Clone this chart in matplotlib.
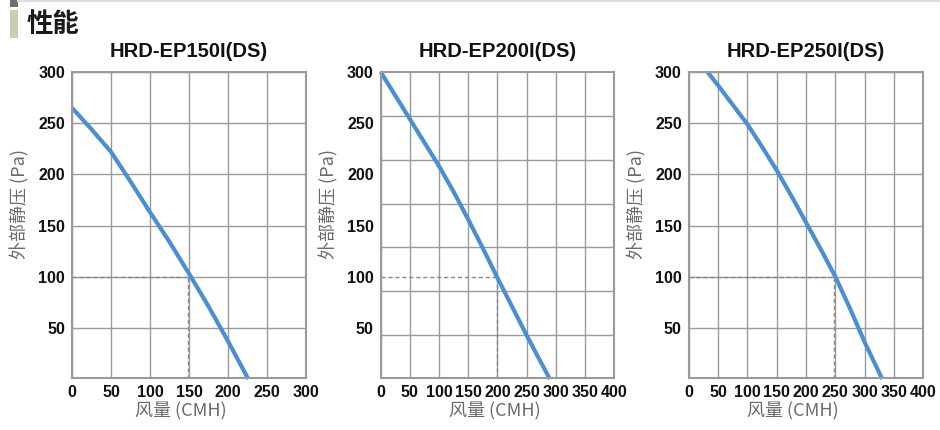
from matplotlib import pyplot as plt
from matplotlib.patches import Rectangle
from matplotlib.lines import Line2D
import numpy as np

# ----------------------------------------
# Data
# ----------------------------------------
titles = ["HRD-EP150I(DS)", "HRD-EP200I(DS)", "HRD-EP250I(DS)"]

flow_150 = [0, 25, 50, 75, 100, 125, 150, 175, 200, 226]
press_150 = [265, 244, 222, 193, 163, 134, 103, 71, 37, 0]

flow_200 = [0, 25, 50, 75, 100, 125, 150, 175, 200, 225, 250, 275, 290]
press_200 = [300, 277, 254, 231, 208, 183, 156, 128, 99, 71, 43, 16, 0]

flow_250 = [32, 50, 75, 100, 125, 150, 175, 200, 225, 250, 275, 300, 330]
press_250 = [300, 287, 268, 249, 227, 204, 179, 153, 127, 100, 69, 36, 0]

rated_flow = [149, 199, 247]
rated_press = [100, 100, 100]

x_max = [300, 400, 400]
y_ticks = [50, 100, 150, 200, 250, 300]

curves = [(flow_150, press_150), (flow_200, press_200), (flow_250, press_250)]

# ----------------------------------------
# Styles
# ----------------------------------------
blue = "#4a8fd2"
grid_col = "#9a9a9a"
label_col = "#6a6a6a"
tick_font = ["Liberation Sans", "DejaVu Sans"]
cjk_font = ["Noto Sans CJK SC", "DejaVu Sans"]

plt.rcParams['font.family'] = cjk_font

fig = plt.figure(figsize=(9.4, 4.3), dpi=100)

lefts = [72 / 940, 380.7 / 940, 688.7 / 940]
widths = [234 / 940, 233.3 / 940, 234.6 / 940]
bottom = 1 - 378 / 430
height = (378 - 72) / 430
xlabel_x = [0.466, 0.49, 0.445]

for i in range(3):
    ax = fig.add_axes([lefts[i], bottom, widths[i], height])
    xs, ys = curves[i]

    ax.set_xlim(0, x_max[i])
    ax.set_ylim(1, 300)

    # grid lines
    ax.set_xticks(np.arange(0, x_max[i] + 1, 50))
    ax.set_yticks(y_ticks)
    if i == 1:
        # the middle chart's horizontal grid uses 7 equal steps
        ax.set_yticks([300 * k / 7 for k in range(1, 7)], minor=True)
        ax.grid(True, which="minor", axis="y", color=grid_col, lw=1.0)
        ax.grid(False, which="major", axis="y")
        ax.tick_params(axis="y", which="minor", length=0)
    else:
        ax.grid(True, which="major", axis="y", color=grid_col, lw=1.0)
    ax.grid(True, which="major", axis="x", color=grid_col, lw=1.0)
    ax.set_axisbelow(True)

    for s in ax.spines.values():
        s.set_color(grid_col)
        s.set_linewidth(1.5)

    ax.tick_params(axis="both", which="major", length=0, pad=5)
    for lab in ax.get_xticklabels() + ax.get_yticklabels():
        lab.set_family(tick_font)
        lab.set_fontweight("bold")
        lab.set_fontsize(11.5)
        lab.set_color("#111111")

    # rated point guide lines
    ax.plot([0, rated_flow[i]], [rated_press[i], rated_press[i]],
            ls=(0, (3, 2)), color="#888888", lw=1.0)
    ax.plot([rated_flow[i], rated_flow[i]], [0, rated_press[i]],
            ls=(0, (3, 2)), color="#888888", lw=1.0)

    # performance curve
    ax.plot(xs, ys, color=blue, lw=3.0, solid_capstyle="butt", clip_on=False)

    ax.set_title(titles[i], family=["Liberation Sans", "DejaVu Sans"],
                 fontweight="bold", fontsize=14.5, color="#111111", pad=11)
    ax.set_xlabel("风量 (CMH)", fontsize=13, color=label_col)
    ax.set_ylabel("外部静压 (Pa)", fontsize=13, color=label_col)
    ax.xaxis.set_label_coords(xlabel_x[i], -0.08)
    ax.yaxis.set_label_coords(-0.18, 0.57)

# ----------------------------------------
# Section header
# ----------------------------------------
fig.add_artist(Rectangle((10 / 940, 1 - 7 / 430), 8 / 940, 7 / 430,
                         transform=fig.transFigure, color="#707066", lw=0))
fig.add_artist(Rectangle((10 / 940, 1 - 38 / 430), 8 / 940, 28 / 430,
                         transform=fig.transFigure, color="#c9cdb2", lw=0))
fig.add_artist(Line2D([18 / 940, 1], [1 - 1 / 430, 1 - 1 / 430],
                      transform=fig.transFigure, color="#dddddd", lw=1.5))
fig.text(27 / 940, 1 - 24 / 430, "性能", fontsize=19, fontweight="bold",
         color="#1a1a1a", va="center", ha="left")

plt.savefig("out.png", dpi=100)
